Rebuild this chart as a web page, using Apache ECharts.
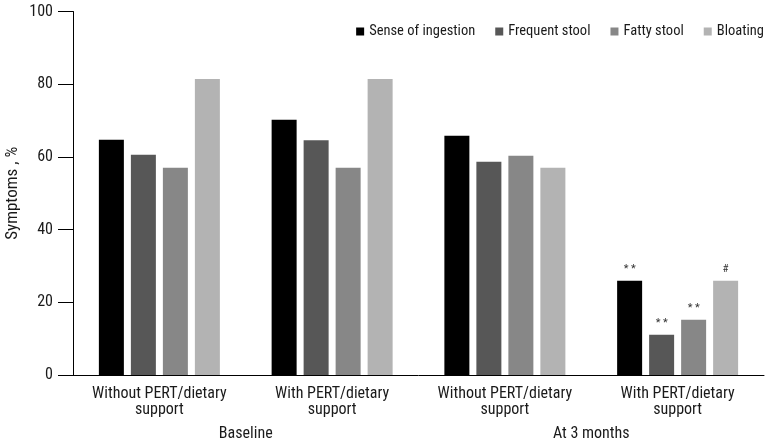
<!DOCTYPE html>
<html><head><meta charset="utf-8">
<script src="https://cdn.jsdelivr.net/npm/echarts@6/dist/echarts.min.js"></script>
<style>html,body{margin:0;padding:0;background:#fff}#c{width:768px;height:443px}</style>
</head><body><div id="c"></div>
<script>
var categories = ['Without PERT/dietary\nsupport','With PERT/dietary\nsupport','Without PERT/dietary\nsupport','With PERT/dietary\nsupport'];
var timepoints = ['Baseline','At 3 months'];
var seriesNames = ['Sense of ingestion','Frequent stool','Fatty stool','Bloating'];
var senseOfIngestion = [64.7, 70.2, 65.8, 25.9];
var frequentStool = [60.6, 64.6, 58.7, 11.1];
var fattyStool = [57.0, 57.0, 60.3, 15.2];
var bloating = [81.4, 81.4, 57.0, 25.9];
var significance = [
  ['', '', '', '* *'],
  ['', '', '', '* *'],
  ['', '', '', '* *'],
  ['', '', '', '#']
];
var yTicks = [0, 20, 40, 60, 80, 100];
var colors = ['#000000', '#575757', '#878787', '#b3b3b3'];
var FONT = "'Roboto Condensed','Open Sans Condensed','Liberation Sans',sans-serif";
var TXT = '#1a1a1a';

var values = [senseOfIngestion, frequentStool, fattyStool, bloating];
var chart = echarts.init(document.getElementById('c'));
chart.setOption({
  animation: false,
  textStyle: {fontFamily: FONT},
  grid: {left: 73, right: 4, top: 11.5, bottom: 68, containLabel: false, outerBoundsMode: 'none'},
  legend: {
    data: seriesNames, right: 4, top: 24, padding: 0, itemWidth: 8, itemHeight: 8, itemGap: 20,
    icon: 'rect', textStyle: {fontFamily: FONT, fontSize: 14.5, color: TXT}
  },
  xAxis: [{
    type: 'category', data: categories,
    axisLine: {lineStyle: {color: '#000', width: 1}},
    axisTick: {show: false},
    axisLabel: {fontFamily: FONT, fontSize: 16, color: TXT, lineHeight: 16, margin: 11, interval: 0}
  }, {
    type: 'category', data: timepoints, position: 'bottom', offset: 42,
    axisLine: {show: false}, axisTick: {show: false},
    axisLabel: {fontFamily: FONT, fontSize: 16, color: TXT, lineHeight: 16, margin: 9, interval: 0}
  }],
  yAxis: {
    type: 'value', min: yTicks[0], max: yTicks[yTicks.length-1], interval: 20,
    name: 'Symptoms , %', nameLocation: 'middle', nameGap: 52, nameMoveOverlap: false,
    nameTextStyle: {fontFamily: FONT, fontSize: 17, color: TXT},
    axisLine: {show: true, lineStyle: {color: '#000', width: 1}},
    axisTick: {show: true, inside: false, length: 15, lineStyle: {color: '#000'}},
    axisLabel: {fontFamily: FONT, fontSize: 16, color: TXT, margin: 20},
    splitLine: {show: false}
  },
  series: seriesNames.map(function(n, i){
    return {
      name: n, type: 'bar', data: values[i], barWidth: 25, barGap: '28%',
      xAxisIndex: 0,
      itemStyle: {color: colors[i]},
      label: {
        show: true, position: 'top', distance: 6, fontSize: 11, color: '#333',
        formatter: function(p){ return significance[i][p.dataIndex]; }
      }
    };
  })
});
</script></body></html>
